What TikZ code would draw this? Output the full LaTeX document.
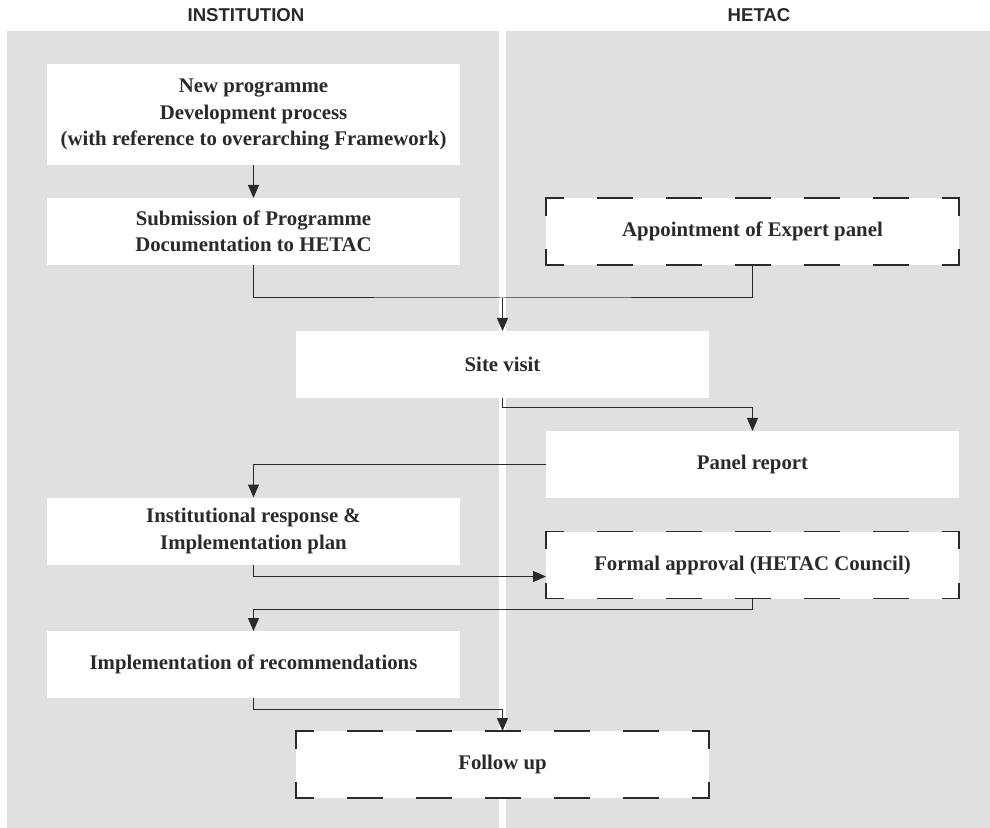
\documentclass[tikz,border=0pt]{standalone}
\usepackage{fontspec}
\setmainfont{Liberation Serif}
\newfontfamily\headfont{Liberation Sans}
\usetikzlibrary{arrows.meta}
\definecolor{lanegrey}{HTML}{DFE0E2}
\definecolor{inkgrey}{HTML}{2A2A2A}

\begin{document}
\begin{tikzpicture}
      [%%%%%%%%%%%%%%%%%%%%%%%%%%%%%%
      x=0.5pt,y=-0.5pt,
      stage/.style={rectangle,fill=white,minimum width=206.5pt,minimum height=33.5pt,inner sep=0pt,outer sep=0pt,align=center,text=inkgrey,font=\fontsize{10.4}{13.25}\selectfont\bfseries},
      lane/.style={font=\headfont\fontsize{9.3}{11}\selectfont\bfseries,text=inkgrey},
      flow/.style={draw=inkgrey,line width=0.5pt,-{Triangle[length=6.5pt,width=5.5pt]}},
      link/.style={draw=inkgrey,line width=0.5pt},
      dashside/.style={draw=inkgrey,line width=0.8pt,line cap=rect,dash pattern=on 17pt off 17.5pt,dash phase=8.5pt},
      ]%%%%%%%%%%%%%%%%%%%%%%%%%%%%%%

      \useasboundingbox (0,0) rectangle (990,828);

      % lanes
      \fill[lanegrey] (7,31) rectangle (499,828);
      \fill[lanegrey] (506,31) rectangle (990,828);
      \node[lane] (inst) at (246,15) {INSTITUTION};
      \node[lane] (hetac) at (759,15) {HETAC};

      % stages
      \node[stage,minimum height=50.5pt] (newprog) at (253.5,114.5) {New programme\\Development process\\(with reference to overarching Framework)};
      \node[stage] (submission) at (253.5,231.5) {Submission of Programme\\Documentation to HETAC};
      \node[stage] (appoint) at (752.5,231.5) {Appointment of Expert panel};
      \node[stage] (site) at (502.5,364.5) {Site visit};
      \node[stage] (panel) at (752.5,464.5) {Panel report};
      \node[stage] (response) at (253.5,531) {Institutional response \&\\Implementation plan};
      \node[stage] (approval) at (752.5,565) {Formal approval (HETAC Council)};
      \node[stage] (implement) at (253.5,664.5) {Implementation of recommendations};
      \node[stage] (followup) at (502.5,764.5) {Follow up};

      % connectors
      \coordinate (meet) at (502.5,298);
      \draw[flow] (newprog) -- (submission);
      \draw[link] (submission.south) |- (meet) -| (appoint.south);
      \draw[flow] (meet) -- (site.north);
      \draw[flow] (site.south) -- ++(0,10) -| (panel.north);
      \draw[flow] (panel.west) -| (response.north);
      \draw[flow] (response.south) -- ++(0,12) coordinate (rlow) -- (rlow -| approval.west);
      \draw[flow] (approval.south) -- ++(0,11) -| (implement.north);
      \draw[flow] (implement.south) -- ++(0,11) -| (followup.north);

      % dashed outlines
      \foreach \n in {appoint,approval,followup}
        \foreach \a/\b in {north west/north east,north east/south east,south west/south east,north west/south west}
          \draw[dashside] (\n.\a) -- (\n.\b);
    \end{tikzpicture}
\end{document}
